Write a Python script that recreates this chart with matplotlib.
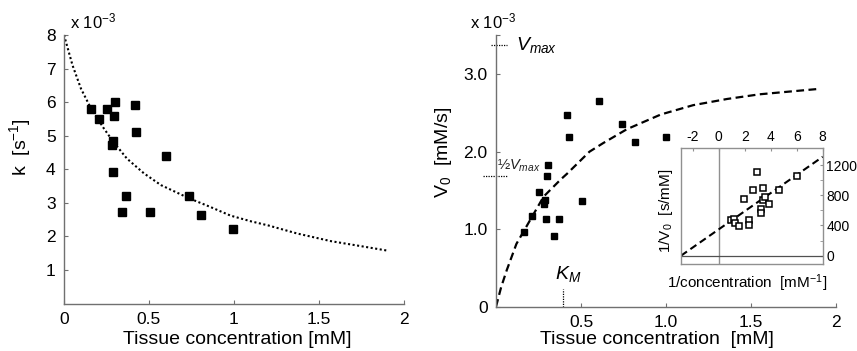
import matplotlib
matplotlib.use("Agg")
import matplotlib.pyplot as plt
import matplotlib.transforms as mtransforms

plt.rcParams['font.family'] = ['Liberation Sans', 'DejaVu Sans']
plt.rcParams['mathtext.fontset'] = 'custom'
plt.rcParams['mathtext.rm'] = 'Liberation Sans'
plt.rcParams['mathtext.it'] = 'Liberation Sans:italic'
plt.rcParams['axes.unicode_minus'] = False

# ---------------- data ----------------
# left panel: rate constant k (x 1e-3 s^-1) vs tissue concentration (mM)
conc_k = [0.157, 0.208, 0.251, 0.302, 0.296, 0.416, 0.425, 0.290, 0.280, 0.286,
          0.600, 0.365, 0.340, 0.504, 0.735, 0.808, 0.994]
k_vals = [5.81, 5.49, 5.81, 6.01, 5.59, 5.91, 5.10, 4.83, 4.72, 3.92,
          4.40, 3.21, 2.73, 2.73, 3.21, 2.63, 2.21]
k_fit_x = [0.0, 0.05, 0.10, 0.16, 0.23, 0.29, 0.37, 0.47, 0.57, 0.73, 0.86,
           0.98, 1.10, 1.20, 1.37, 1.57, 1.76, 1.90]
k_fit_y = [8.0, 7.1, 6.4, 5.8, 5.25, 4.82, 4.32, 3.88, 3.53, 3.15, 2.88,
           2.62, 2.45, 2.33, 2.09, 1.86, 1.70, 1.58]

# right panel: V0 (x 1e-3 mM/s) vs tissue concentration (mM)
conc_v = [0.167, 0.214, 0.255, 0.288, 0.284, 0.292, 0.298, 0.304, 0.369, 0.341,
          0.416, 0.429, 0.504, 0.606, 0.741, 0.816, 1.000]
v0_vals = [0.964, 1.17, 1.476, 1.377, 1.325, 1.13, 1.686, 1.83, 1.128, 0.916,
           2.47, 2.186, 1.368, 2.65, 2.36, 2.12, 2.19]
mm_fit_x = [0.0, 0.03, 0.063, 0.12, 0.17, 0.28, 0.38, 0.42, 0.55, 0.63, 0.77,
            0.97, 1.16, 1.36, 1.55, 1.75, 1.90]
mm_fit_y = [0.0, 0.25, 0.47, 0.81, 1.0, 1.42, 1.64, 1.72, 2.0, 2.11, 2.29,
            2.48, 2.60, 2.68, 2.74, 2.78, 2.81]
v_max = 3.38
k_m = 0.392

# inset: Lineweaver-Burk
inv_conc = [0.96, 1.19, 1.27, 1.60, 1.94, 2.32, 2.35, 2.65, 2.94, 3.22, 3.24,
            3.37, 3.42, 3.55, 3.86, 4.65, 6.01]
inv_v0 = [468, 481, 437, 389, 746, 468, 406, 865, 1103, 614, 561,
          895, 737, 772, 684, 865, 1058]
lb_fit_x = [-2.9, 8.0]
lb_fit_y = [0, 1310]

spine_c = '#707070'

fig = plt.figure(figsize=(8.57, 3.51), dpi=100)

# ---------------- left panel ----------------
ax1 = fig.add_axes([64/857, 1-303.6/351, 340/857, (303.6-35)/351])
ax1.plot(k_fit_x, k_fit_y, linestyle=(0, (1, 1.2)), color='black', lw=1.5)
ax1.plot(conc_k, k_vals, 's', color='black', ms=5.4, mec='black')
ax1.set_xlim(0, 2)
ax1.set_ylim(0, 8)
ax1.set_xticks([0, 0.5, 1, 1.5, 2])
ax1.set_xticklabels(['0', '0.5', '1', '1.5', '2'])
ax1.set_yticks([1, 2, 3, 4, 5, 6, 7, 8])
ax1.set_yticklabels(['1', '2', '3', '4', '5', '6', '7', '8'])
for s in ['top', 'right']:
    ax1.spines[s].set_visible(False)
for s in ['left', 'bottom']:
    ax1.spines[s].set_color(spine_c)
    ax1.spines[s].set_linewidth(1.0)
ax1.tick_params(direction='in', length=3, color=spine_c, labelsize=12.5, pad=6)
fig.text(70/857, 1-21/351, r'x 10$^{\mathregular{-3}}$', fontsize=12, ha='left', va='center')
fig.text(20/857, 1-147/351, r'k  [s$^{\mathregular{-1}}$]', fontsize=14, rotation=90,
         ha='center', va='center')
fig.text(237/857, 1-339/351, 'Tissue concentration [mM]', fontsize=14,
         ha='center', va='center')

# ---------------- right panel ----------------
ax2 = fig.add_axes([496/857, 1-306.7/351, 340/857, (306.7-35.4)/351])
ax2.plot(mm_fit_x, mm_fit_y, linestyle=(0, (3.5, 2)), color='black', lw=1.6)
ax2.plot(conc_v, v0_vals, 's', color='black', ms=4.8, mec='black')
ax2.set_xlim(0, 2)
ax2.set_ylim(0, 3.5)
ax2.set_xticks([0.5, 1.0, 1.5, 2])
ax2.set_xticklabels(['0.5', '1.0', '1.5', '2'])
ax2.set_yticks([0, 1, 2, 3, 3.5])
ax2.set_yticklabels(['0', '1.0', '2.0', '3.0', ''])
for s in ['top', 'right']:
    ax2.spines[s].set_visible(False)
for s in ['left', 'bottom']:
    ax2.spines[s].set_color(spine_c)
    ax2.spines[s].set_linewidth(1.0)
ax2.tick_params(direction='in', length=3, color=spine_c, labelsize=12.5, pad=6)

trans2 = mtransforms.blended_transform_factory(ax2.transAxes, ax2.transData)
ax2.plot([-0.015, 0.032], [v_max, v_max], linestyle=(0, (1, 1)), color='black',
         lw=0.9, transform=trans2, clip_on=False)
ax2.plot([-0.038, 0.035], [v_max/2, v_max/2], linestyle=(0, (1, 1)), color='black',
         lw=0.9, transform=trans2, clip_on=False)
ax2.text(0.06, v_max, r'$V_{max}$', transform=trans2, fontsize=14,
         ha='left', va='center')
ax2.text(0.004, v_max/2 + 0.13, r'½$V_{max}$', transform=trans2, fontsize=10.5,
         ha='left', va='center', color='#222222')
ax2.plot([k_m, k_m], [0, 0.225], linestyle=(0, (1, 1)), color='black', lw=0.9)
ax2.text(k_m - 0.045, 0.42, r'$K_M$', fontsize=14, ha='left', va='center')
fig.text(470/857, 1-21/351, r'x 10$^{\mathregular{-3}}$', fontsize=12, ha='left', va='center')
fig.text(443/857, 1-152/351, r'V$_0$  [mM/s]', fontsize=14, rotation=90,
         ha='center', va='center')
fig.text(657/857, 1-339/351, 'Tissue concentration  [mM]', fontsize=14,
         ha='center', va='center')

# ---------------- inset ----------------
ax3 = fig.add_axes([681/857, 1-264/351, 141.7/857, 116.3/351])
ax3.axvline(0, color='#909090', lw=1.0)
ax3.axhline(0, color='#505050', lw=0.9)
ax3.plot(lb_fit_x, lb_fit_y, linestyle=(0, (3.5, 2)), color='black', lw=1.5)
ax3.plot(inv_conc, inv_v0, 's', mfc='white', mec='black', ms=3.8, mew=1.1)
ax3.set_xlim(-2.9, 8)
ax3.set_ylim(-110, 1430)
ax3.set_xticks([-2, 0, 2, 4, 6, 8])
ax3.set_yticks([0, 400, 800, 1200])
ax3.set_yticks([200, 600, 1000], minor=True)
ax3.xaxis.tick_top()
ax3.yaxis.tick_right()
for s in ax3.spines.values():
    s.set_color('#909090')
    s.set_linewidth(1.0)
ax3.tick_params(which='both', direction='in', length=2.5, color='#909090',
                labelsize=10, pad=2.5)
fig.text(666/857, 1-211/351, r'1/V$_0$  [s/mM]', fontsize=11, rotation=90,
         ha='center', va='center')
fig.text(747/857, 1-283/351, r'1/concentration  [mM$^{\mathregular{-1}}$]', fontsize=11,
         ha='center', va='center')

fig.savefig('out.png', dpi=100)
